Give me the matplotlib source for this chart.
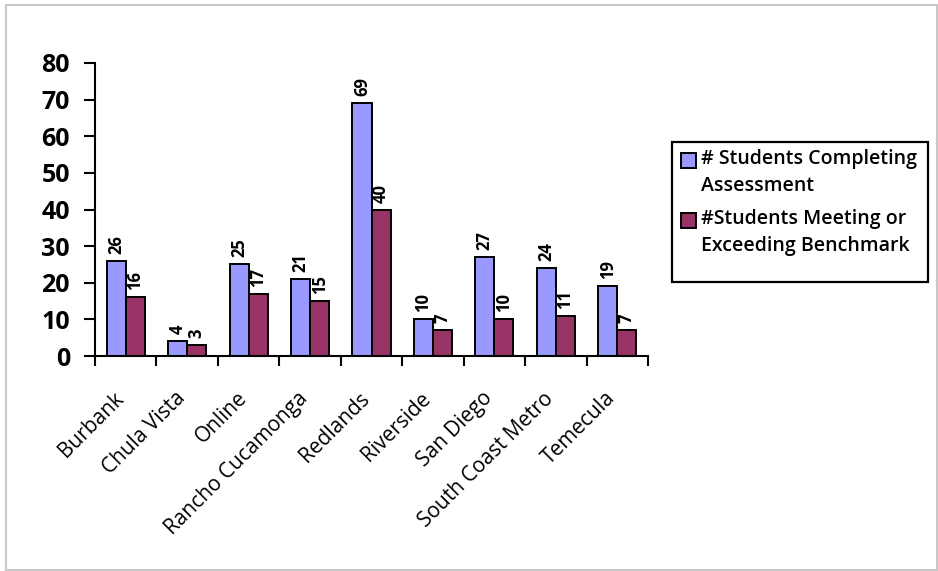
import matplotlib.pyplot as plt
import numpy as np
from matplotlib.patches import Rectangle

campuses = ['Burbank', 'Chula Vista', 'Online', 'Rancho Cucamonga', 'Redlands',
            'Riverside', 'San Diego', 'South Coast Metro', 'Temecula']
completing = [26, 4, 25, 21, 69, 10, 27, 24, 19]
meeting = [16, 3, 17, 15, 40, 7, 10, 11, 7]
series_names = ['# Students Completing\nAssessment', '#Students Meeting or\nExceeding Benchmark']
colors = ['#9999ff', '#993366']

plt.rcParams['font.family'] = ['Open Sans', 'DejaVu Sans']

W, H = 938, 571
fig = plt.figure(figsize=(W / 100, H / 100), dpi=100)
# outer frame
fig.patches.append(Rectangle((6 / W, 1 / H), 931 / W, 565 / H, transform=fig.transFigure,
                             fill=False, edgecolor='#c8c8c8', linewidth=1.5))

ax = fig.add_axes([95 / W, 1 - 356 / H, 553 / W, 293 / H])
x = np.arange(len(campuses))
w = 0.31
b1 = ax.bar(x - w / 2, completing, w, color=colors[0], edgecolor='black', linewidth=1.4)
b2 = ax.bar(x + w / 2, meeting, w, color=colors[1], edgecolor='black', linewidth=1.4)
for bars in (b1, b2):
    for r in bars:
        ax.annotate(str(int(r.get_height())), (r.get_x() + r.get_width() / 2, r.get_height()),
                    xytext=(0, 5), textcoords='offset points', rotation=90,
                    ha='center', va='bottom', fontsize=12, fontweight='bold')

ax.set_xlim(-0.5, len(campuses) - 0.5)
ax.set_ylim(0, 80)
ax.set_yticks(range(0, 81, 10))
ax.tick_params(axis='y', labelsize=18, length=8, width=1.5, direction='out', pad=10)
for t in ax.get_yticklabels():
    t.set_fontweight('bold')
ax.set_xticks(np.arange(len(campuses) + 1) - 0.5)
ax.set_xticklabels([])
ax.tick_params(axis='x', length=7, width=1.5, direction='out')
for i, name in enumerate(campuses):
    ax.annotate(name, (i, 0), xytext=(-9, -23), textcoords='offset points',
                rotation=45, ha='right', va='top', fontsize=15, rotation_mode='anchor')
for s in ['top', 'right']:
    ax.spines[s].set_visible(False)
ax.spines['left'].set_linewidth(1.5)
ax.spines['bottom'].set_linewidth(1.5)

# legend drawn by hand so the swatch sits on the first text line
fig.patches.append(Rectangle((672 / W, 1 - 282 / H), 256 / W, 140 / H, transform=fig.transFigure,
                             fill=False, edgecolor='black', linewidth=1.6))
for k, (name, c) in enumerate(zip(series_names, colors)):
    yc = 160 + 60 * k
    fig.patches.append(Rectangle((681 / W, 1 - (yc + 7.5) / H), 15 / W, 15 / H,
                                 transform=fig.transFigure, facecolor=c,
                                 edgecolor='black', linewidth=1.4))
    fig.text(701 / W, 1 - (yc - 11) / H, name, ha='left', va='top', fontsize=14,
             fontweight='semibold', linespacing=1.45)

fig.savefig('out.png', dpi=100)
